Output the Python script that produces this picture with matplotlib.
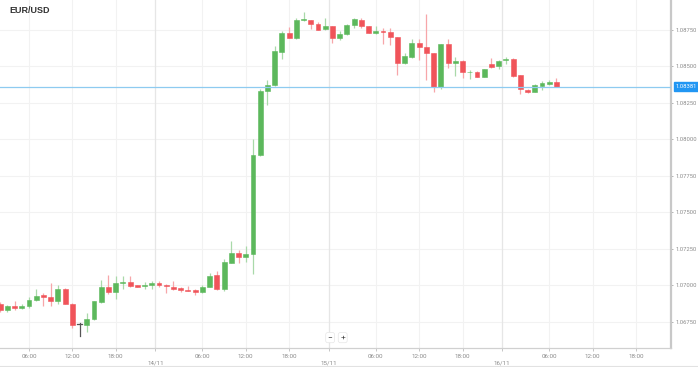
import matplotlib
matplotlib.use("Agg")
import matplotlib.pyplot as plt
from matplotlib.patches import Rectangle

plt.rcParams['font.family'] = ['Roboto', 'DejaVu Sans']

# hours since 13/11 00:00
hours = list(range(2, 80))
opens = [1.06873, 1.06832, 1.06859, 1.06843, 1.06857, 1.06902, 1.06932, 1.06918, 1.06893, 1.06975,
         1.06875, 1.06736, 1.06729, 1.06768, 1.06888, 1.06991, 1.06957, 1.07018, 1.07021, 1.07001,
         1.06996, 1.07001, 1.07017, 1.07003, 1.06989, 1.06982, 1.06966, 1.06966, 1.06955, 1.06991,
         1.07069, 1.06977, 1.07155, 1.07220, 1.07197, 1.07215, 1.07891, 1.08332, 1.08373, 1.08601,
         1.08731, 1.08693, 1.08816, 1.08820, 1.08789, 1.08756, 1.08779, 1.08693, 1.08720, 1.08784,
         1.08820, 1.08779, 1.08729, 1.08743, 1.08734, 1.08702, 1.08521, 1.08567, 1.08663, 1.08635,
         1.08590, 1.08361, 1.08652, 1.08526, 1.08539, 1.08460, 1.08462, 1.08430, 1.08519, 1.08505,
         1.08544, 1.08553, 1.08441, 1.08339, 1.08327, 1.08368, 1.08380, 1.08393]
highs = [1.06886, 1.06866, 1.06891, 1.06871, 1.06918, 1.06973, 1.06950, 1.07014, 1.07000, 1.06982,
         1.06880, 1.06740, 1.06809, 1.06893, 1.07037, 1.07069, 1.07062, 1.07064, 1.07067, 1.07003,
         1.07023, 1.07028, 1.07032, 1.07010, 1.07030, 1.06991, 1.06996, 1.06979, 1.07003, 1.07083,
         1.07099, 1.07181, 1.07307, 1.07243, 1.07272, 1.08003, 1.08345, 1.08407, 1.08642, 1.08745,
         1.08768, 1.08830, 1.08875, 1.08820, 1.08806, 1.08830, 1.08779, 1.08743, 1.08793, 1.08834,
         1.08830, 1.08779, 1.08779, 1.08761, 1.08761, 1.08704, 1.08590, 1.08686, 1.08686, 1.08857,
         1.08590, 1.08652, 1.08688, 1.08563, 1.08544, 1.08476, 1.08469, 1.08484, 1.08556, 1.08544,
         1.08563, 1.08556, 1.08441, 1.08343, 1.08378, 1.08400, 1.08407, 1.08419]
lows = [1.06818, 1.06818, 1.06832, 1.06838, 1.06843, 1.06895, 1.06861, 1.06859, 1.06875, 1.06873,
        1.06706, 1.06654, 1.06683, 1.06763, 1.06877, 1.06941, 1.06905, 1.06979, 1.06991, 1.06989,
        1.06979, 1.06977, 1.06991, 1.06950, 1.06969, 1.06957, 1.06962, 1.06934, 1.06946, 1.06987,
        1.06969, 1.06964, 1.07151, 1.07155, 1.07160, 1.07078, 1.07886, 1.08236, 1.08366, 1.08549,
        1.08693, 1.08688, 1.08811, 1.08756, 1.08750, 1.08750, 1.08658, 1.08681, 1.08715, 1.08761,
        1.08761, 1.08727, 1.08720, 1.08652, 1.08647, 1.08441, 1.08515, 1.08560, 1.08544, 1.08407,
        1.08323, 1.08345, 1.08491, 1.08436, 1.08423, 1.08414, 1.08428, 1.08428, 1.08487, 1.08482,
        1.08515, 1.08430, 1.08309, 1.08320, 1.08327, 1.08339, 1.08373, 1.08361]
closes = [1.06832, 1.06859, 1.06843, 1.06859, 1.06900, 1.06929, 1.06918, 1.06893, 1.06975, 1.06875,
          1.06729, 1.06736, 1.06770, 1.06891, 1.06991, 1.06957, 1.07018, 1.07023, 1.06996, 1.06991,
          1.07001, 1.07017, 1.07001, 1.06994, 1.06977, 1.06969, 1.06964, 1.06955, 1.06991, 1.07066,
          1.06979, 1.07160, 1.07220, 1.07192, 1.07213, 1.07895, 1.08334, 1.08375, 1.08606, 1.08731,
          1.08693, 1.08816, 1.08825, 1.08791, 1.08752, 1.08779, 1.08697, 1.08724, 1.08784, 1.08825,
          1.08779, 1.08729, 1.08741, 1.08734, 1.08702, 1.08521, 1.08573, 1.08658, 1.08635, 1.08590,
          1.08361, 1.08652, 1.08526, 1.08537, 1.08464, 1.08464, 1.08430, 1.08480, 1.08498, 1.08539,
          1.08553, 1.08436, 1.08343, 1.08323, 1.08373, 1.08384, 1.08391, 1.08361]

price_label = "1.08381"
ytick_values = [1.06750, 1.07000, 1.07250, 1.07500, 1.07750, 1.08000, 1.08250, 1.08500, 1.08750]
time_ticks = [6, 12, 18, 30, 36, 42, 54, 60, 66, 78, 84, 90]
time_labels = ["06:00", "12:00", "18:00"] * 4
date_ticks = [23.5, 47.5, 71.5]
date_labels = ["14/11", "15/11", "16/11"]

GREEN = "#5cb85c"
RED = "#f0545a"
WICK_GREEN = "#a9d9a9"
WICK_RED = "#f7a6a9"
DOJI = "#555555"

fig = plt.figure(figsize=(6.98, 3.67), dpi=100)
ax = fig.add_axes([0, 0.051, 0.9613, 0.949])
ax.set_xlim(1.99, 94.85)
ax.set_ylim(1.06570, 1.08955)

# grid
for v in ytick_values:
    ax.axhline(v, color="#f2f2f2", lw=0.8, zorder=0)
for t in time_ticks:
    ax.axvline(t, color="#f2f2f2", lw=0.8, zorder=0)
for t in date_ticks:
    ax.axvline(t, color="#e6e6e6", lw=0.9, zorder=0)

w = 0.68
for h, o, hi, lo, c in zip(hours, opens, highs, lows, closes):
    if abs(c - o) < 1e-7:
        ax.plot([h, h], [lo, hi], color=DOJI, lw=0.9, zorder=2)
        ax.plot([h - w / 2, h + w / 2], [o, o], color=DOJI, lw=0.9, zorder=2)
        continue
    up = c > o
    col = GREEN if up else RED
    wcol = WICK_GREEN if up else WICK_RED
    ax.plot([h, h], [lo, hi], color=wcol, lw=0.9, zorder=2, solid_capstyle="butt")
    bot = min(o, c)
    ht = max(abs(c - o), 0.000025)
    ax.add_patch(Rectangle((h - w / 2, bot), w, ht, facecolor=col, edgecolor=col, lw=0.4, zorder=3))

# current price line
last = closes[-1]
ax.axhline(last, color="#8ecbf0", lw=0.9, zorder=4)

for s in ["top", "left"]:
    ax.spines[s].set_visible(False)
ax.spines["right"].set_color("#c8c8c8")
ax.spines["right"].set_linewidth(1.6)
ax.spines["bottom"].set_color("#d0d0d0")
ax.spines["bottom"].set_linewidth(0.9)

ax.yaxis.tick_right()
ax.set_yticks(ytick_values)
ax.set_yticklabels([f"{v:.5f}" for v in ytick_values], fontsize=4.2, color="#8a8a8a")
ax.tick_params(axis="y", length=1.5, width=0.6, color="#aaaaaa", pad=1.5)

ax.set_xticks(time_ticks + date_ticks)
ax.set_xticklabels(time_labels + ["\n" + d for d in date_labels], fontsize=4.5, color="#8a8a8a",
                   linespacing=1.5)
ax.tick_params(axis="x", length=2, width=0.6, color="#bbbbbb", pad=2)

# price tag
ax.annotate(price_label, xy=(1.0, last), xycoords=("axes fraction", "data"),
            xytext=(3.5, 0), textcoords="offset points", ha="left", va="center",
            fontsize=4.2, color="white", annotation_clip=False,
            bbox=dict(boxstyle="square,pad=0.35", fc="#2196f3", ec="#2196f3"))

fig.text(0.013, 0.972, "EUR/USD", fontsize=6.5, fontweight="bold", color="#333333",
         ha="left", va="center", family=["Liberation Sans", "DejaVu Sans"])

# zoom buttons
for xp, s in [(0.4730, "\u2212"), (0.4910, "+")]:
    fig.text(xp, 0.080, s, fontsize=6, color="#444444", ha="center", va="center",
             bbox=dict(boxstyle="round,pad=0.25", fc="white", ec="#e6e6e6", lw=0.5))

fig.add_artist(plt.Line2D([0, 1], [0.003, 0.003], color="#e2e2e2", lw=0.8))

fig.savefig("out.png", dpi=100)
